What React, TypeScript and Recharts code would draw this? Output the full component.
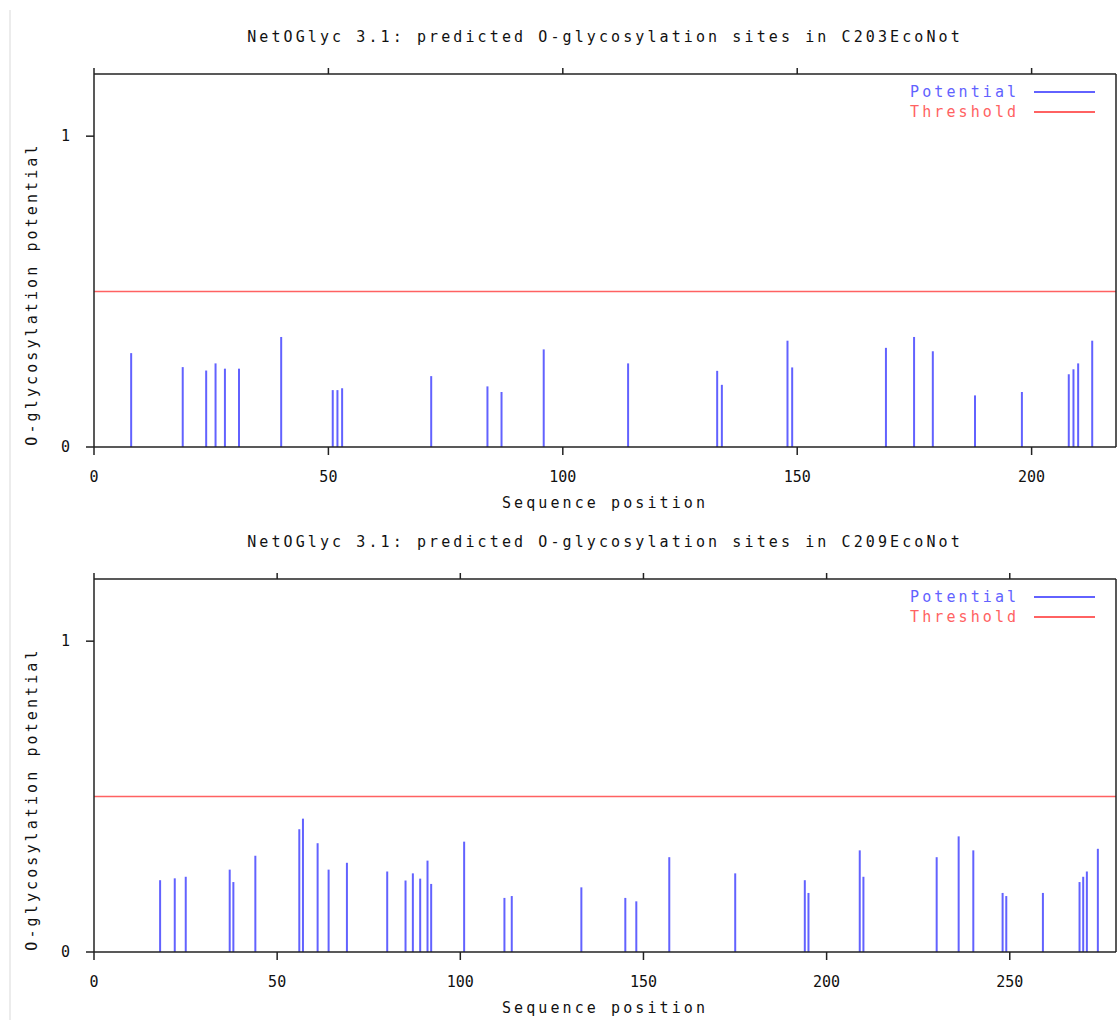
import React from "react";
import { ComposedChart, Bar, XAxis, YAxis, ReferenceLine } from "recharts";

// C203EcoNot: predicted sites (sequence position) and their potential
const topPositions = [8, 19, 24, 26, 28, 31, 40, 51, 52, 53, 72, 84, 87, 96, 114, 133, 134, 148, 149, 169, 175, 179, 188, 198, 208, 209, 210, 213];
const topValues = [0.302, 0.257, 0.246, 0.269, 0.252, 0.252, 0.354, 0.183, 0.183, 0.189, 0.228, 0.195, 0.177, 0.314, 0.269, 0.245, 0.2, 0.342, 0.256, 0.319, 0.354, 0.308, 0.166, 0.177, 0.234, 0.25, 0.269, 0.342];
const topLength = 218;
const topTicks = [0, 50, 100, 150, 200];

// C209EcoNot
const bottomPositions = [18, 22, 25, 37, 38, 44, 56, 57, 61, 64, 69, 80, 85, 87, 89, 91, 92, 101, 112, 114, 133, 145, 148, 157, 175, 194, 195, 209, 210, 230, 236, 240, 248, 249, 259, 269, 270, 271, 274];
const bottomValues = [0.231, 0.237, 0.242, 0.265, 0.225, 0.31, 0.395, 0.429, 0.35, 0.265, 0.287, 0.259, 0.23, 0.253, 0.236, 0.294, 0.219, 0.355, 0.174, 0.18, 0.208, 0.174, 0.163, 0.305, 0.253, 0.231, 0.19, 0.327, 0.242, 0.305, 0.372, 0.327, 0.19, 0.18, 0.19, 0.225, 0.242, 0.259, 0.332];
const bottomLength = 279;
const bottomTicks = [0, 50, 100, 150, 200, 250];

const yTicks = [0, 1];
const threshold = 0.5;

const FONT = '"DejaVu Sans Mono", monospace';
const BLUE = "#6262ff";
const RED = "#ff6262";
const AXIS = "#222";
const textStyle = { fontFamily: FONT, fontSize: 15, letterSpacing: 3.1, fill: "#111" };

// plain html legend, Recharts' Legend would steal plot height
function LegendBox() {
  const row = (label: string, color: string) => (
    <div style={{ display: "flex", alignItems: "center", height: 20 }}>
      <span style={{ color, fontFamily: FONT, fontSize: 15, letterSpacing: 3.1, width: 124 }}>{label}</span>
      <span style={{ display: "inline-block", width: 61, height: 1.5, background: color }} />
    </div>
  );
  return (
    <div style={{ position: "absolute", top: 82, left: 910 }}>
      {row("Potential", BLUE)}
      {row("Threshold", RED)}
    </div>
  );
}

interface PanelProps {
  title: string;
  positions: number[];
  values: number[];
  length: number;
  ticks: number[];
  top: number;
}

function GlycoPanel({ title, positions, values, length, ticks, top }: PanelProps) {
  const data = positions.map((p, i) => ({ pos: p, v: values[i] }));
  return (
    <div style={{ position: "absolute", left: 0, top, width: 1118, height: 520 }}>
      <div
        style={{
          position: "absolute",
          top: 27,
          left: 0,
          width: 1210,
          textAlign: "center",
          fontFamily: FONT,
          fontSize: 15,
          letterSpacing: 3.1,
          lineHeight: "20px",
          color: "#111",
        }}
      >
        {title}
      </div>
      <ComposedChart width={1118} height={520} data={data} margin={{ top: 68, right: 2, bottom: 15, left: 0 }}>
        <XAxis
          xAxisId="b"
          type="number"
          dataKey="pos"
          domain={[0, length]}
          ticks={ticks}
          interval={0}
          height={58}
          tickSize={8}
          tickMargin={16}
          stroke={AXIS}
          strokeWidth={1.5}
          tick={{ fontFamily: FONT, fontSize: 15, fill: "#111" }}
          label={{
            content: () => (
              <text x={605} y={508} textAnchor="middle" style={textStyle}>
                Sequence position
              </text>
            ),
          }}
        />
        <XAxis
          xAxisId="t"
          orientation="top"
          type="number"
          dataKey="pos"
          domain={[0, length]}
          ticks={ticks}
          interval={0}
          height={6}
          tickSize={6}
          stroke={AXIS}
          strokeWidth={1.5}
          tickFormatter={() => ""}
        />
        <YAxis
          type="number"
          domain={[0, 1.2]}
          ticks={yTicks}
          width={94}
          tickSize={8}
          tickMargin={16}
          stroke={AXIS}
          strokeWidth={1.5}
          tick={{ fontFamily: FONT, fontSize: 15, fill: "#111" }}
          label={{
            content: () => (
              <text x={37} y={294} transform="rotate(-90 37 294)" textAnchor="middle" style={textStyle}>
                O-glycosylation potential
              </text>
            ),
          }}
        />
        <ReferenceLine xAxisId="b" y={threshold} stroke={RED} strokeWidth={1.5} />
        <ReferenceLine xAxisId="b" x={length} stroke={AXIS} strokeWidth={1.5} />
        <Bar xAxisId="b" dataKey="v" barSize={2} fill={BLUE} isAnimationActive={false} />
      </ComposedChart>
      <LegendBox />
    </div>
  );
}

export default function App() {
  return (
    <div style={{ position: "absolute", left: 0, top: 0, width: 1118, height: 1020, background: "#fff", overflow: "hidden" }}>
      <div style={{ position: "absolute", left: 9, top: 10, width: 0, height: 1010, borderLeft: "2px solid #ececec" }} />
      <GlycoPanel
        title="NetOGlyc 3.1: predicted O-glycosylation sites in C203EcoNot"
        positions={topPositions}
        values={topValues}
        length={topLength}
        ticks={topTicks}
        top={0}
      />
      <GlycoPanel
        title="NetOGlyc 3.1: predicted O-glycosylation sites in C209EcoNot"
        positions={bottomPositions}
        values={bottomValues}
        length={bottomLength}
        ticks={bottomTicks}
        top={505}
      />
    </div>
  );
}
